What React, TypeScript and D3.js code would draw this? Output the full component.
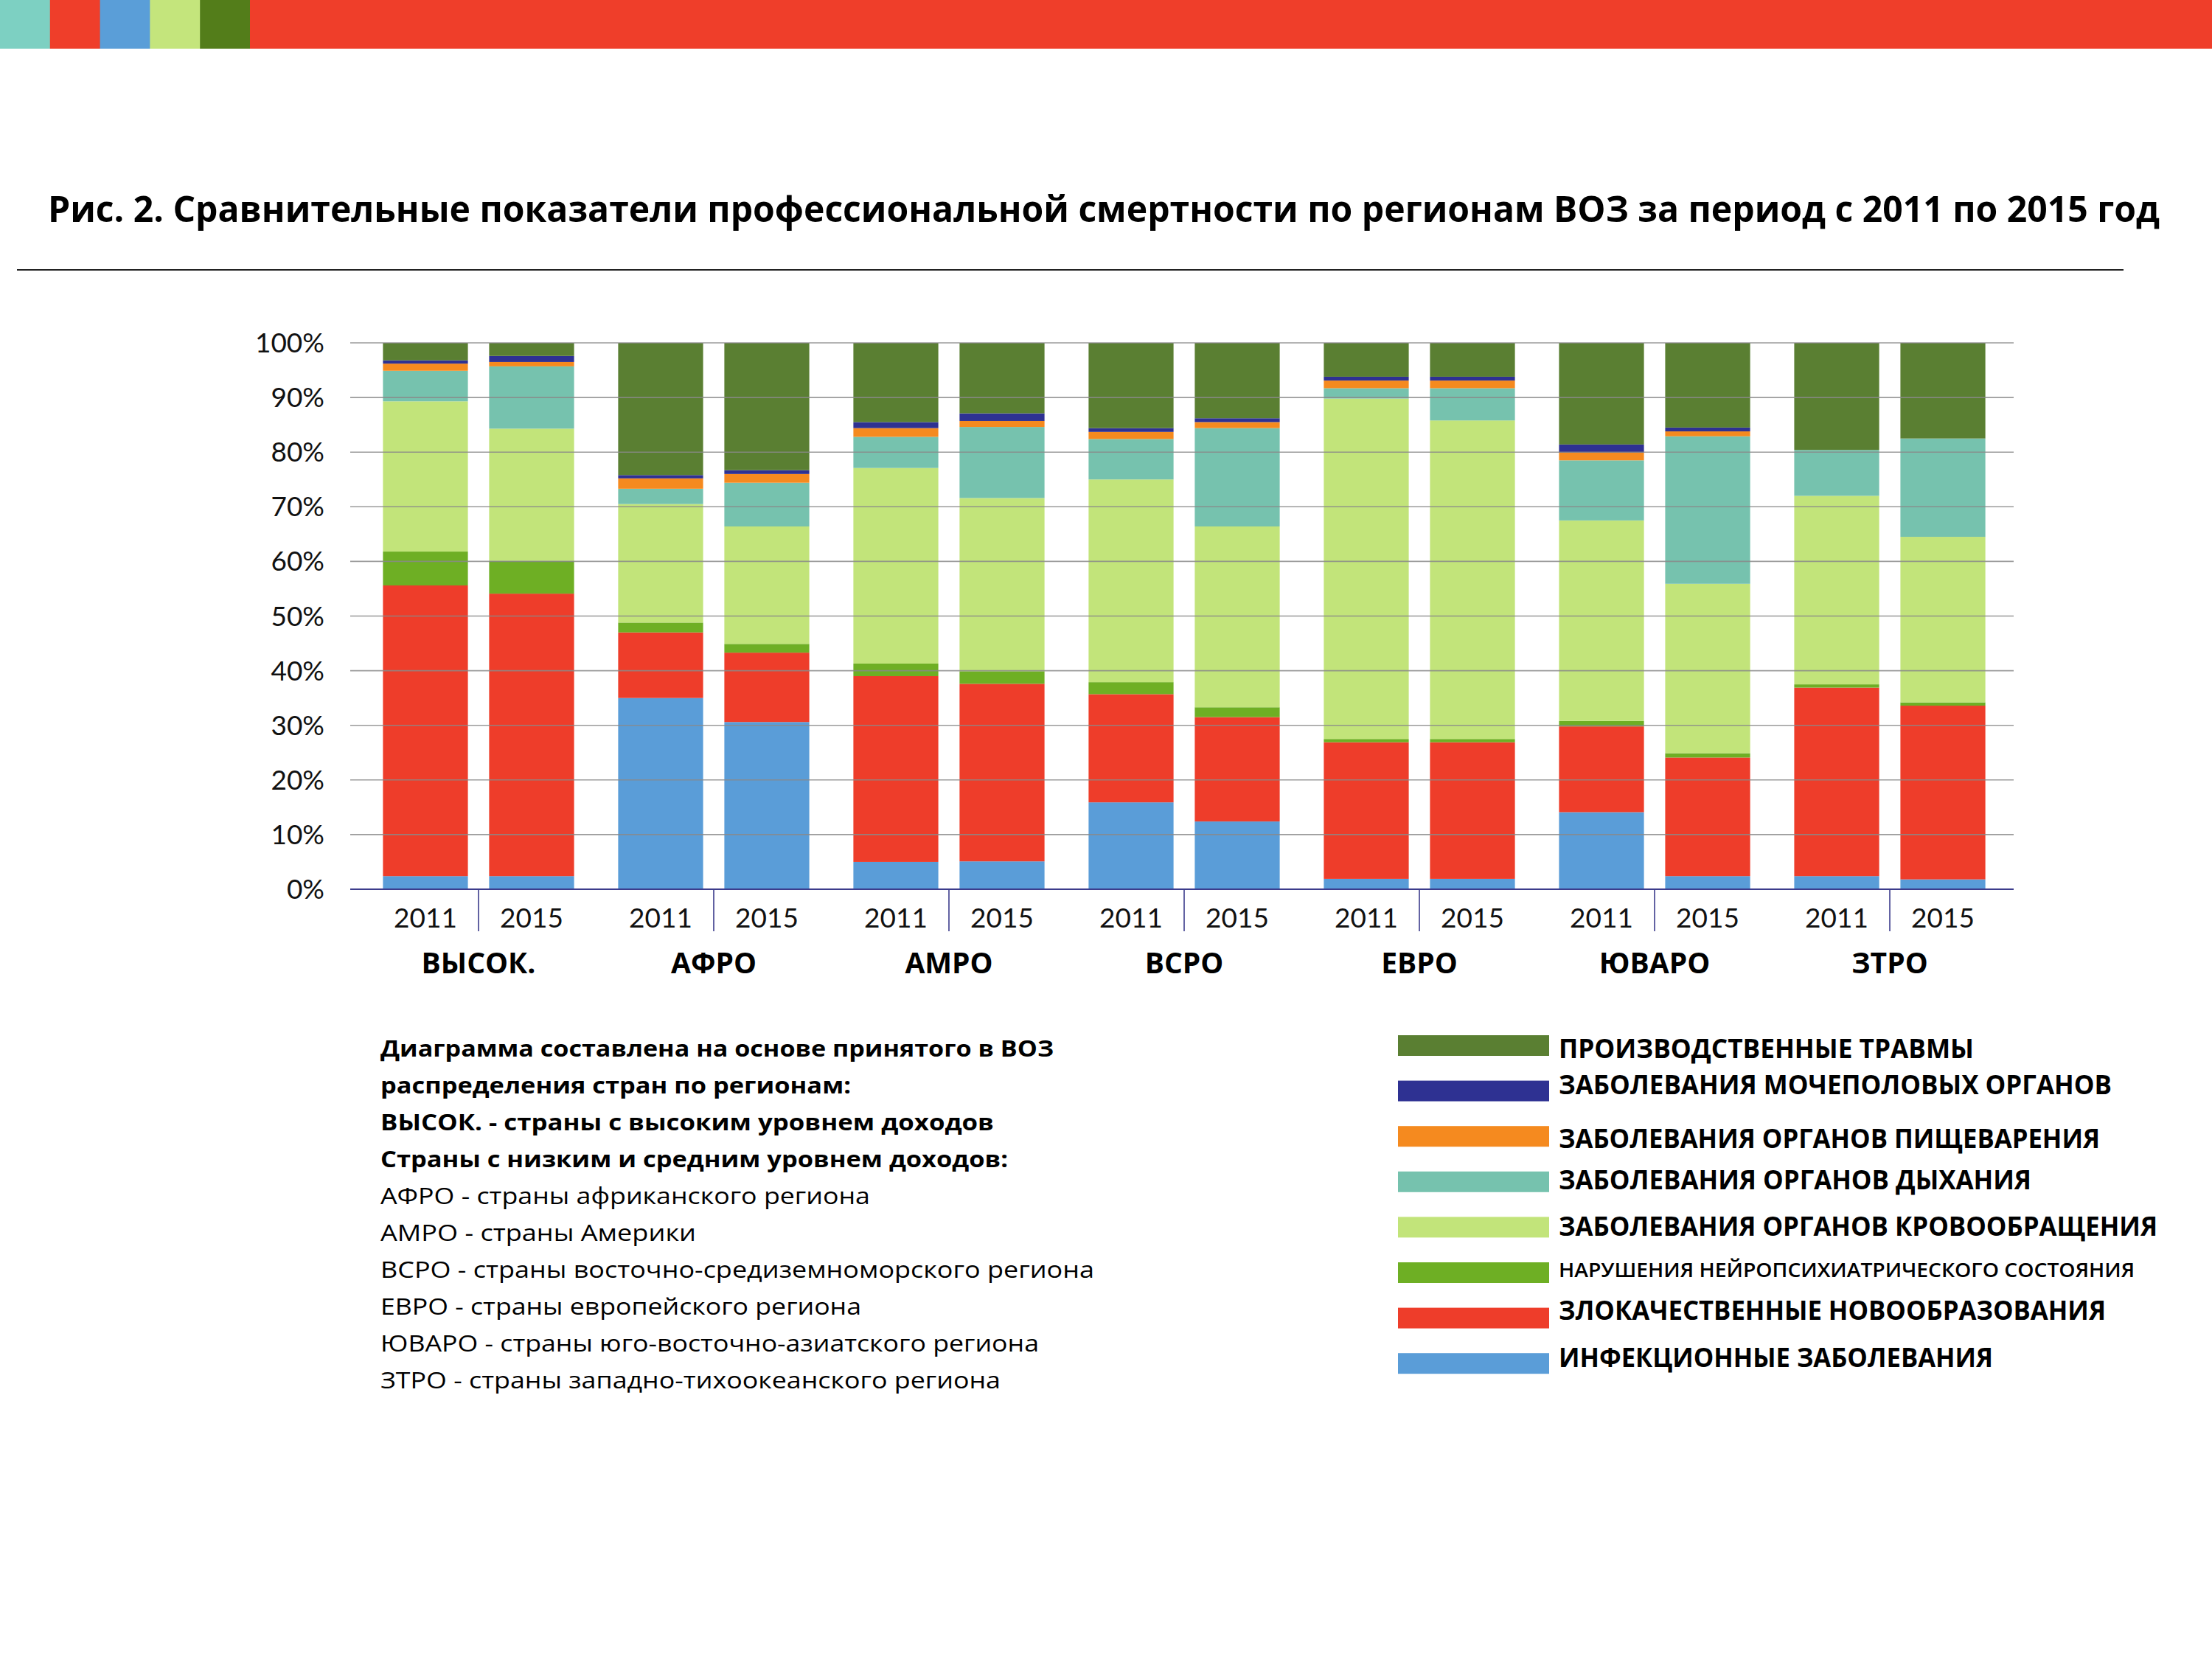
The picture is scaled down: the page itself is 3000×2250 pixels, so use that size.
import React from "react";
import * as d3 from "d3";

// ---------- DATA ----------
const regions = ["ВЫСОК.", "АФРО", "АМРО", "ВСРО", "ЕВРО", "ЮВАРО", "ЗТРО"];
const years = ["2011", "2015"];

// values in %, order: region-major, 2011 then 2015
const infectious = [2.4, 2.4, 35.0, 30.6, 5.0, 5.1, 15.9, 12.4, 1.9, 1.9, 14.1, 2.4, 2.4, 1.8];
const malignant = [53.2, 51.7, 12.0, 12.7, 34.0, 32.5, 19.8, 19.1, 25.0, 25.0, 15.7, 21.7, 34.5, 31.8];
const neuro = [6.2, 6.0, 1.8, 1.6, 2.3, 2.3, 2.2, 1.8, 0.6, 0.6, 1.0, 0.8, 0.6, 0.6];
const circulatory = [27.5, 24.2, 21.7, 21.5, 35.8, 31.7, 37.1, 33.1, 62.3, 58.3, 36.7, 31.0, 34.5, 30.3];
const respiratory = [5.6, 11.4, 2.8, 8.0, 5.7, 13.0, 7.4, 18.0, 1.9, 5.9, 11.0, 27.0, 8.4, 18.0];
const digestive = [1.3, 0.8, 1.9, 1.6, 1.6, 1.1, 1.3, 1.1, 1.4, 1.4, 1.4, 0.9, 0, 0];
const genitourinary = [0.6, 1.1, 0.6, 0.7, 1.1, 1.4, 0.7, 0.7, 0.7, 0.7, 1.5, 0.7, 0, 0];
const injuries = [3.2, 2.4, 24.2, 23.3, 14.5, 12.9, 15.6, 13.8, 6.2, 6.2, 18.6, 15.5, 19.6, 17.5];

const seriesKeys = ["infectious", "malignant", "neuro", "circulatory", "respiratory", "digestive", "genitourinary", "injuries"];
const seriesLabels = [
  "ИНФЕКЦИОННЫЕ ЗАБОЛЕВАНИЯ",
  "ЗЛОКАЧЕСТВЕННЫЕ НОВООБРАЗОВАНИЯ",
  "НАРУШЕНИЯ НЕЙРОПСИХИАТРИЧЕСКОГО СОСТОЯНИЯ",
  "ЗАБОЛЕВАНИЯ ОРГАНОВ КРОВООБРАЩЕНИЯ",
  "ЗАБОЛЕВАНИЯ ОРГАНОВ ДЫХАНИЯ",
  "ЗАБОЛЕВАНИЯ ОРГАНОВ ПИЩЕВАРЕНИЯ",
  "ЗАБОЛЕВАНИЯ МОЧЕПОЛОВЫХ ОРГАНОВ",
  "ПРОИЗВОДСТВЕННЫЕ ТРАВМЫ",
];
const seriesColors = ["#5A9DD8", "#EE3D2A", "#6EAF24", "#C2E47A", "#76C2AE", "#F58A1F", "#2E3192", "#5A7F32"];

const yTickValues = [0, 10, 20, 30, 40, 50, 60, 70, 80, 90, 100];

const titleText = "Рис. 2. Сравнительные показатели профессиональной смертности по регионам ВОЗ за период с 2011 по 2015 год";

const noteLines = [
  "Диаграмма составлена на основе принятого в ВОЗ",
  "распределения стран по регионам:",
  "ВЫСОК. - страны с высоким уровнем доходов",
  "Страны с низким и средним уровнем доходов:",
  "АФРО - страны африканского региона",
  "АМРО - страны Америки",
  "ВСРО - страны восточно-средиземноморского региона",
  "ЕВРО - страны европейского региона",
  "ЮВАРО - страны юго-восточно-азиатского региона",
  "ЗТРО - страны западно-тихоокеанского региона",
];
const noteBold = [true, true, true, true, false, false, false, false, false, false];

const stripeColors = ["#7DD0C2", "#EF3E2A", "#5A9ED8", "#C4E57C", "#537D1A", "#EF3E2A"];

// ---------- LAYOUT (styles only) ----------
const W = 3000;
const H = 2250;
const plotLeft = 475;
const plotRight = 2731;
const plotTop = 465;
const plotBottom = 1206;
const noteWidths = [913, 638, 832, 851, 664, 428, 968, 652, 893, 841];
const legendWidths = [563, 750, 734, 641, 812, 781, 742, 589]; // legend order top->bottom
const legendBaseOffsets = [31, 18, 30, 24, 26, 20, 16, 19];

export default function App() {
  const valuesByKey: Record<string, number[]> = {
    infectious, malignant, neuro, circulatory, respiratory, digestive, genitourinary, injuries,
  };
  const rows = regions.flatMap((r, i) =>
    years.map((yr, j) => {
      const idx = i * 2 + j;
      const o: any = { region: r, year: yr };
      seriesKeys.forEach((k) => (o[k] = valuesByKey[k][idx]));
      return o;
    })
  );
  const stacked = d3.stack<any>().keys(seriesKeys).offset(d3.stackOffsetExpand)(rows);

  const x0 = d3.scaleBand<string>().domain(regions).range([plotLeft + 3, plotRight + 3]).paddingInner(0).paddingOuter(0.036);
  const x1 = d3.scaleBand<string>().domain(years).range([0, x0.bandwidth()]).paddingInner(0.2).paddingOuter(0.2076);
  const y = d3.scaleLinear().domain([0, 1]).range([plotBottom, plotTop]);

  const stripeX = d3.scaleLinear().domain([0, 1]).range([0, 67.8]);

  const legendOrder = seriesKeys.map((_, i) => i).reverse();

  return (
    <svg width={W} height={H} viewBox={`0 0 ${W} ${H}`} style={{ position: "absolute", left: 0, top: 0, background: "#fff" }}>
      <rect x={0} y={0} width={W} height={H} fill="#fff" />
      {/* top stripe */}
      {stripeColors.map((c, i) => (
        <rect key={i} x={stripeX(i)} y={0} width={i === stripeColors.length - 1 ? W - stripeX(i) : stripeX(1) + 0.5} height={66} fill={c} />
      ))}

      {/* title */}
      <text x={65} y={301} fontFamily="'Open Sans', sans-serif" fontWeight={700} fontSize={48} fill="#000"
        textLength={2864} lengthAdjust="spacingAndGlyphs">{titleText}</text>
      <line x1={23} x2={2880} y1={366} y2={366} stroke="#222" strokeWidth={2} />

      {/* bars */}
      {stacked.map((s, si) => (
        <g key={s.key} fill={seriesColors[si]}>
          {s.map((d, di) => {
            const row = rows[di];
            const h = y(d[0]) - y(d[1]);
            if (h <= 0) return null;
            return (
              <rect key={di} x={(x0(row.region) as number) + (x1(row.year) as number)} y={y(d[1])}
                width={x1.bandwidth()} height={h} />
            );
          })}
        </g>
      ))}

      {/* gridlines (drawn over bars, as in the reference) */}
      {yTickValues.filter((t) => t > 0).map((t) => (
        <line key={t} x1={plotLeft} x2={plotRight} y1={y(t / 100)} y2={y(t / 100)} stroke="#8a8a8a" strokeOpacity={0.85} strokeWidth={1.6} />
      ))}
      {/* x axis */}
      <line x1={plotLeft} x2={plotRight} y1={plotBottom} y2={plotBottom} stroke="#3c3c8c" strokeWidth={2} />
      {regions.map((r) => {
        const cx = (x0(r) as number) + x0.bandwidth() / 2;
        return <line key={r} x1={cx} x2={cx} y1={plotBottom} y2={plotBottom + 57} stroke="#3c3c8c" strokeWidth={1.6} />;
      })}

      {/* y tick labels */}
      {yTickValues.map((t) => (
        <text key={t} x={440} y={y(t / 100) + 13} textAnchor="end" fontFamily="Lato, sans-serif" fontSize={37} fill="#111">
          {`${t}%`}
        </text>
      ))}

      {/* x labels */}
      {rows.map((row, i) => (
        <text key={i} x={(x0(row.region) as number) + (x1(row.year) as number) + x1.bandwidth() / 2} y={1258}
          textAnchor="middle" fontFamily="Lato, sans-serif" fontSize={37} fill="#111">{row.year}</text>
      ))}
      {regions.map((r) => (
        <text key={r} x={(x0(r) as number) + x0.bandwidth() / 2} y={1320} textAnchor="middle"
          fontFamily="'Open Sans', sans-serif" fontWeight={700} fontSize={39} fill="#000">{r}</text>
      ))}

      {/* notes */}
      {noteLines.map((line, i) => (
        <text key={i} x={516} y={1433 + i * 50} fontFamily="'Open Sans', sans-serif" fontWeight={noteBold[i] ? 700 : 400}
          fontSize={31} fill="#000" textLength={noteWidths[i]} lengthAdjust="spacingAndGlyphs">{line}</text>
      ))}

      {/* legend */}
      {legendOrder.map((si, li) => {
        const top = 1404 + li * 61.6;
        const small = seriesKeys[si] === "neuro";
        return (
          <g key={si}>
            <rect x={1896} y={top} width={205} height={28} fill={seriesColors[si]} />
            <text x={2114} y={top + legendBaseOffsets[li]} fontFamily="'Open Sans', sans-serif" fontWeight={small ? 600 : 700}
              fontSize={small ? 27 : 36} fill="#000" textLength={legendWidths[li]} lengthAdjust="spacingAndGlyphs">
              {seriesLabels[si]}
            </text>
          </g>
        );
      })}
    </svg>
  );
}
